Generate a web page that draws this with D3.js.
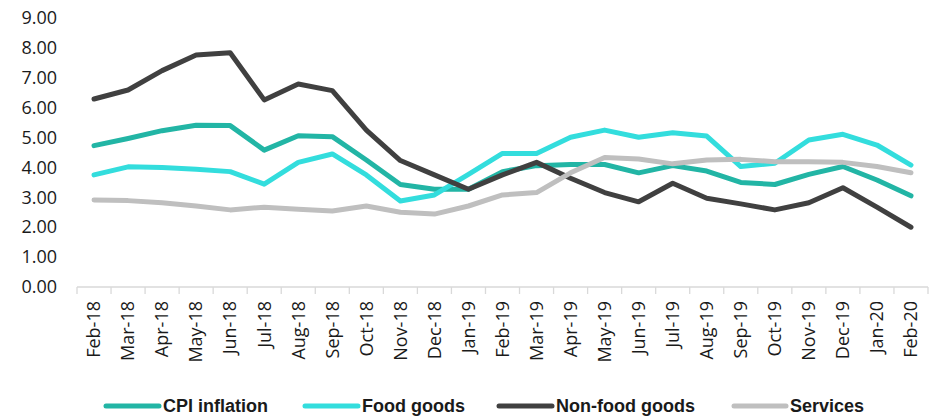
<!DOCTYPE html>
<html>
<head>
<meta charset="utf-8">
<script src="https://cdn.jsdelivr.net/npm/d3@7"></script>
<style>
  html, body { margin: 0; padding: 0; background: #fff; }
  svg { display: block; font-family: "Open Sans", "Liberation Sans", sans-serif; }
</style>
</head>
<body>
<svg id="chart" width="934" height="417"></svg>
<script>
// Monthly categories
const months = ["Feb-18","Mar-18","Apr-18","May-18","Jun-18","Jul-18","Aug-18","Sep-18","Oct-18","Nov-18","Dec-18","Jan-19",
                "Feb-19","Mar-19","Apr-19","May-19","Jun-19","Jul-19","Aug-19","Sep-19","Oct-19","Nov-19","Dec-19","Jan-20","Feb-20"];

// Annual inflation rates, %
const cpiInflation = [4.73,4.97,5.23,5.41,5.40,4.58,5.06,5.03,4.25,3.43,3.27,3.27,3.86,4.06,4.10,4.10,3.82,4.06,3.88,3.50,3.43,3.77,4.03,3.58,3.05];
const foodGoods    = [3.75,4.02,4.00,3.94,3.86,3.44,4.17,4.45,3.75,2.88,3.08,3.77,4.47,4.47,5.01,5.25,5.01,5.16,5.05,4.03,4.14,4.92,5.11,4.75,4.08];
const nonFoodGoods = [6.29,6.59,7.24,7.76,7.84,6.26,6.79,6.57,5.25,4.23,3.75,3.27,3.75,4.17,3.64,3.16,2.85,3.47,2.97,2.78,2.58,2.82,3.32,2.67,2.00];
const services     = [2.91,2.89,2.82,2.71,2.58,2.67,2.60,2.54,2.71,2.50,2.44,2.71,3.08,3.16,3.82,4.33,4.28,4.12,4.25,4.27,4.19,4.19,4.17,4.03,3.82];

const yTicks = [0,1,2,3,4,5,6,7,8,9];

const seriesNames  = ["CPI inflation","Food goods","Non-food goods","Services"];
const seriesValues = [cpiInflation, foodGoods, nonFoodGoods, services];
const seriesColors = ["#22b5a5","#33dddd","#404040","#bfbfbf"];

const svg = d3.select("#chart");
const margin = {left: 77, right: 6, top: 18, bottom: 130};
const W = 934, H = 417;

const x = d3.scaleBand().domain(months).range([margin.left, W - margin.right]);
const y = d3.scaleLinear().domain([0, 9]).range([H - margin.bottom, margin.top]);

// Y axis labels (no axis line)
const yAxis = svg.append("g").attr("transform", `translate(${margin.left - 20},0)`)
  .call(d3.axisLeft(y).tickValues(yTicks).tickFormat(d3.format(".2f")).tickSize(0).tickPadding(0));
yAxis.select(".domain").remove();
yAxis.selectAll("text").attr("font-size", 18).attr("fill", "#1a1a1a")
  .attr("font-family", "'Open Sans', sans-serif");

// X axis with ticks between categories
const xAxisG = svg.append("g").attr("transform", `translate(0,${y(0)})`);
xAxisG.append("line")
  .attr("x1", x.range()[0]).attr("x2", x.range()[1])
  .attr("stroke", "#d9d9d9").attr("stroke-width", 1.3);
const bounds = months.map(m => x(m)).concat([x.range()[1]]);
xAxisG.selectAll("line.tick").data(bounds).join("line")
  .attr("class", "tick")
  .attr("x1", d => d).attr("x2", d => d).attr("y1", 0).attr("y2", 7)
  .attr("stroke", "#d9d9d9").attr("stroke-width", 1.3);
xAxisG.selectAll("text").data(months).join("text")
  .attr("transform", d => `translate(${x(d) + x.bandwidth() / 2},${14}) rotate(-90)`)
  .attr("text-anchor", "end")
  .attr("dy", "0.35em")
  .attr("font-size", 18)
  .attr("fill", "#1a1a1a")
  .text(d => d);

// Series lines
const line = d3.line()
  .x((d, i) => x(months[i]) + x.bandwidth() / 2)
  .y(d => y(d));

svg.append("g").selectAll("path").data(seriesValues).join("path")
  .attr("d", d => line(d))
  .attr("fill", "none")
  .attr("stroke", (d, i) => seriesColors[i])
  .attr("stroke-width", 5)
  .attr("stroke-linejoin", "round")
  .attr("stroke-linecap", "round");

// Legend
const legendY = 406;
const legendItems = [
  {x1: 106, x2: 159},
  {x1: 305, x2: 358},
  {x1: 499, x2: 552},
  {x1: 734, x2: 786}
];
const lg = svg.append("g");
seriesNames.forEach((name, i) => {
  const it = legendItems[i];
  lg.append("line")
    .attr("x1", it.x1).attr("x2", it.x2).attr("y1", legendY).attr("y2", legendY)
    .attr("stroke", seriesColors[i]).attr("stroke-width", 5).attr("stroke-linecap", "round");
  lg.append("text")
    .attr("x", it.x2 + 4).attr("y", legendY).attr("dy", "0.35em")
    .attr("font-size", 18).attr("font-weight", "bold").attr("fill", "#1a1a1a")
    .attr("font-family", "'Liberation Sans', sans-serif")
    .text(name);
});
</script>
</body>
</html>
